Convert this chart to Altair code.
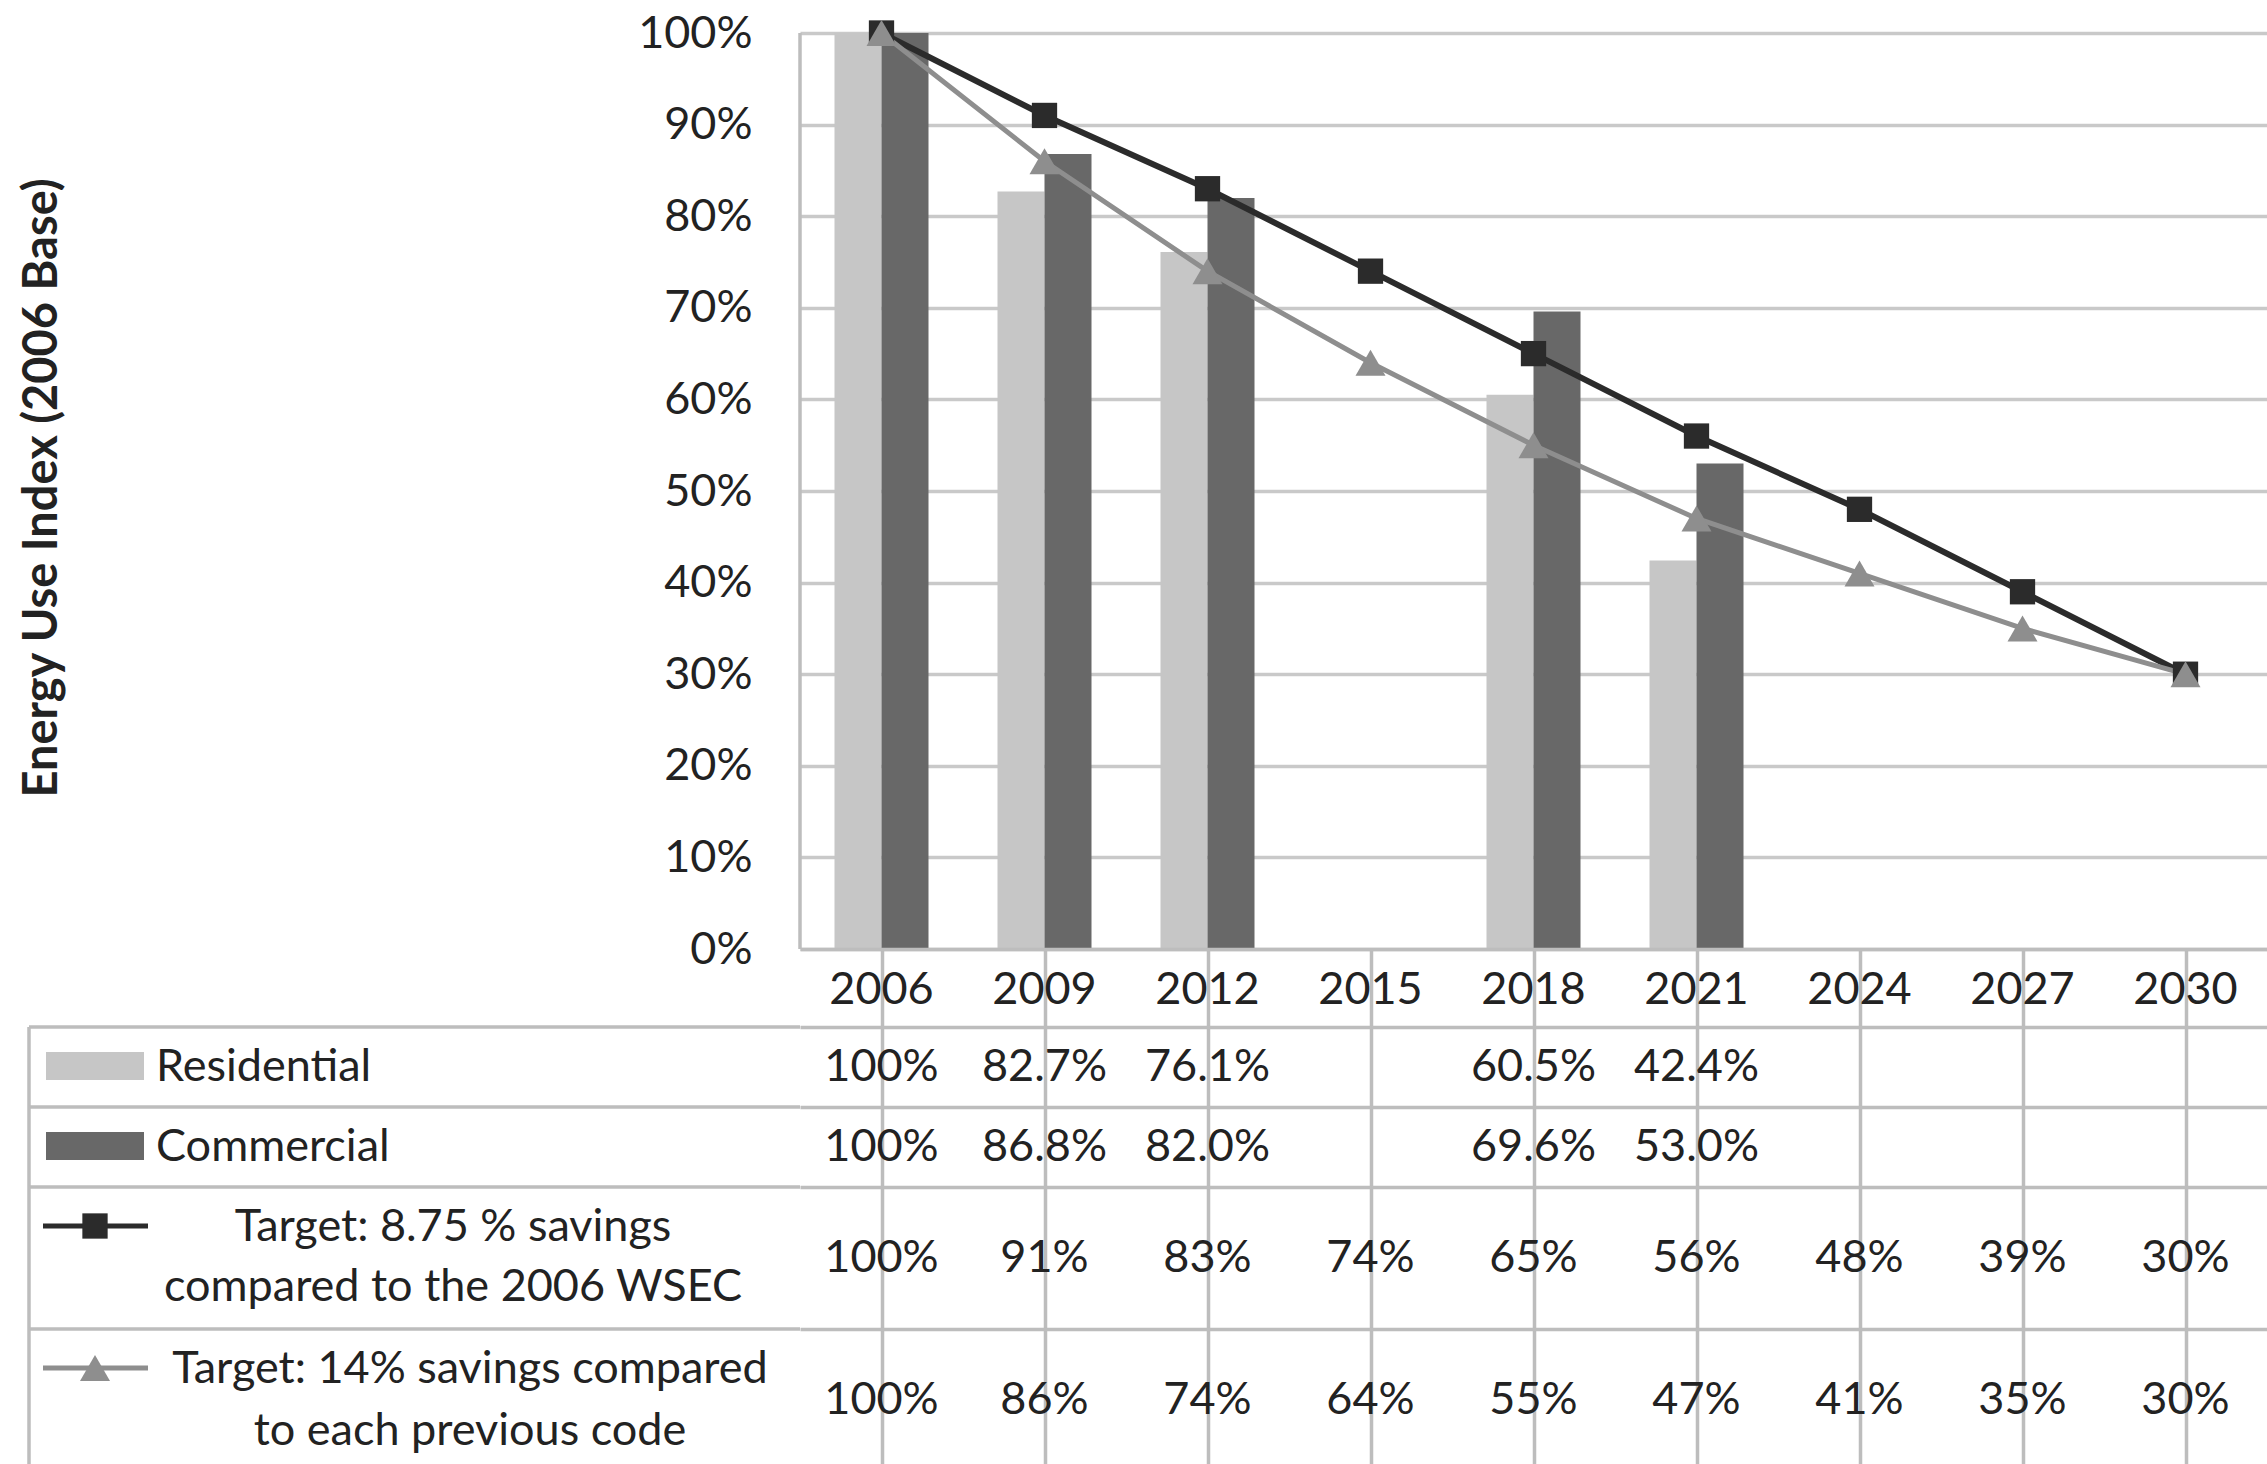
import altair as alt
import pandas as pd

# ---------------------------------------------------------------- data
years = ["2006", "2009", "2012", "2015", "2018", "2021", "2024", "2027", "2030"]
residential = [1.000, 0.827, 0.761, None, 0.605, 0.424, None, None, None]
commercial = [1.000, 0.868, 0.820, None, 0.696, 0.530, None, None, None]
target_fixed = [1.00, 0.91, 0.83, 0.74, 0.65, 0.56, 0.48, 0.39, 0.30]
target_step = [1.00, 0.86, 0.74, 0.64, 0.55, 0.47, 0.41, 0.35, 0.30]

bar_series = ["Residential", "Commercial"]
line_series = ["fixed", "step"]
line_names = {
    "fixed": "Target: 8.75 % savings\ncompared to the 2006 WSEC",
    "step": "Target: 14% savings compared\nto each previous code",
}
y_title = "Energy Use Index (2006 Base)"
y_ticks = [0.0, 0.1, 0.2, 0.3, 0.4, 0.5, 0.6, 0.7, 0.8, 0.9, 1.0]

# ---------------------------------------------------------------- style
FONT = "Lato"
FS = 45
TEXT = "#222222"
GRID = "#c9c9c9"
RULE = "#bdbdbd"
RULE_W = 3.5
SERIES_KEYS = bar_series + line_series
SERIES_COLORS = ["#c6c6c6", "#686868", "#2b2b2b", "#8e8e8e"]

LABEL_W = 800           # width of the row-label column
PLOT_W = 1467           # nine year columns
PLOT_H = 949            # chart panel height (0% sits on its bottom edge)
Y_MAX = PLOT_H / 916    # leaves a small band above the 100% line
ROW_H = {"year": 78, "Residential": 80, "Commercial": 80, "fixed": 142, "step": 135}


def pct_one(v):
    return "100%" if v >= 0.9995 else f"{v * 100:.1f}%"


def pct_int(v):
    return f"{v * 100:.0f}%"


def long_frame(series_map):
    rows = []
    for key, vals in series_map.items():
        for yr, v in zip(years, vals):
            if v is not None:
                rows.append({"year": yr, "series": key, "value": v})
    return pd.DataFrame(rows)


bars_df = long_frame({"Residential": residential, "Commercial": commercial})
lines_df = long_frame({"fixed": target_fixed, "step": target_step})

x_scale = alt.Scale(domain=years, paddingInner=0, paddingOuter=0)
y_scale = alt.Scale(domain=[0, Y_MAX], nice=False, zero=True)
color_scale = alt.Scale(domain=SERIES_KEYS, range=SERIES_COLORS)

y_axis = alt.Axis(
    values=y_ticks, format=".0%", labelFont=FONT, labelFontSize=FS,
    labelColor=TEXT, labelPadding=48, ticks=False, domain=False,
    grid=True, gridColor=GRID, gridWidth=RULE_W, title=None,
    labelOverlap=False,
)

# ---------------------------------------------------------------- chart panel
left_edge = alt.Chart(pd.DataFrame({"lo": [0.0], "hi": [1.0]})).mark_rule(
    color=RULE, strokeWidth=RULE_W
).encode(
    x=alt.value(0),
    y=alt.Y("hi:Q", scale=y_scale, axis=y_axis),
    y2="lo:Q",
)

bars = alt.Chart(bars_df).mark_bar().encode(
    x=alt.X("year:N", scale=x_scale, axis=None),
    xOffset=alt.XOffset(
        "series:N",
        scale=alt.Scale(domain=bar_series, paddingInner=0, paddingOuter=0.734),
    ),
    y=alt.Y("value:Q", scale=y_scale, axis=y_axis),
    color=alt.Color("series:N", scale=color_scale, legend=None),
)

lines = alt.Chart(lines_df).mark_line().encode(
    x=alt.X("year:N", scale=x_scale, axis=None),
    y=alt.Y("value:Q", scale=y_scale, axis=y_axis),
    color=alt.Color("series:N", scale=color_scale, legend=None),
    strokeWidth=alt.StrokeWidth(
        "series:N", scale=alt.Scale(domain=line_series, range=[6, 5]), legend=None
    ),
)

shape_scale = alt.Scale(domain=line_series, range=["square", "triangle-up"])
size_scale = alt.Scale(domain=line_series, range=[640, 900])

points = alt.Chart(lines_df).mark_point(filled=True, opacity=1).encode(
    x=alt.X("year:N", scale=x_scale, axis=None),
    y=alt.Y("value:Q", scale=y_scale, axis=y_axis),
    color=alt.Color("series:N", scale=color_scale, legend=None),
    shape=alt.Shape("series:N", scale=shape_scale, legend=None),
    size=alt.Size("series:N", scale=size_scale, legend=None),
)

plot = alt.layer(left_edge, bars, lines, points).properties(width=PLOT_W, height=PLOT_H)

title_cell = alt.Chart(pd.DataFrame({"t": [y_title]})).mark_text(
    angle=270, font=FONT, fontSize=47, fontWeight="bold", color=TEXT,
    align="center", baseline="middle",
).encode(
    text="t:N", x=alt.value(43), y=alt.value(488)
).properties(width=LABEL_W, height=PLOT_H)

# ---------------------------------------------------------------- data table
table_axis = alt.Axis(
    orient="top", labels=False, ticks=False, domain=True, domainColor=RULE,
    domainWidth=RULE_W, grid=True, gridColor=RULE, gridWidth=RULE_W,
    bandPosition=0, title=None,
)


def values_cell(labels, height, text_y=None):
    df = pd.DataFrame({"year": [y for y, t in labels], "label": [t for y, t in labels]})
    return alt.Chart(df).mark_text(
        font=FONT, fontSize=FS, color=TEXT, align="center", baseline="middle"
    ).encode(
        x=alt.X("year:N", scale=x_scale, axis=table_axis),
        y=alt.value(text_y if text_y is not None else height / 2),
        text="label:N",
    ).properties(width=PLOT_W, height=height)


def borders(height):
    one = pd.DataFrame({"k": [0]})
    top = alt.Chart(one).mark_rule(color=RULE, strokeWidth=RULE_W).encode(
        x=alt.value(29), x2=alt.value(LABEL_W), y=alt.value(0)
    )
    left = alt.Chart(one).mark_rule(color=RULE, strokeWidth=RULE_W).encode(
        x=alt.value(29), y=alt.value(0), y2=alt.value(height)
    )
    return [top, left]


def bar_label_cell(key, height):
    df = pd.DataFrame({"series": [key], "name": [key]})
    swatch = alt.Chart(df).mark_rect().encode(
        x=alt.value(46), x2=alt.value(144), y=alt.value(25), y2=alt.value(53),
        color=alt.Color("series:N", scale=color_scale, legend=None),
    )
    name = alt.Chart(df).mark_text(
        font=FONT, fontSize=FS, color=TEXT, align="left", baseline="middle"
    ).encode(x=alt.value(156), y=alt.value(40), text="name:N")
    return alt.layer(*borders(height), swatch, name).properties(width=LABEL_W, height=height)


def line_label_cell(key, height, text_x, line_height):
    df = pd.DataFrame({"series": [key], "name": [line_names[key]]})
    stroke = alt.Chart(df).mark_rule(strokeWidth=5).encode(
        x=alt.value(43), x2=alt.value(148), y=alt.value(39),
        color=alt.Color("series:N", scale=color_scale, legend=None),
    )
    marker = alt.Chart(df).mark_point(filled=True, opacity=1).encode(
        x=alt.value(95), y=alt.value(39),
        color=alt.Color("series:N", scale=color_scale, legend=None),
        shape=alt.Shape("series:N", scale=shape_scale, legend=None),
        size=alt.Size("series:N", scale=size_scale, legend=None),
    )
    # first line sits level with the legend symbol, second line below it
    name = alt.Chart(df).mark_text(
        font=FONT, fontSize=FS, color=TEXT, align="center", baseline="middle",
        lineBreak="\n", lineHeight=line_height,
    ).encode(x=alt.value(text_x), y=alt.value(40), text="name:N")
    return alt.layer(*borders(height), stroke, marker, name).properties(
        width=LABEL_W, height=height
    )


blank = alt.Chart(pd.DataFrame({"t": [""]})).mark_text().encode(
    text="t:N"
).properties(width=LABEL_W, height=ROW_H["year"])

year_row = values_cell([(y, y) for y in years], ROW_H["year"], 41)
res_row = values_cell(
    [(y, pct_one(v)) for y, v in zip(years, residential) if v is not None], ROW_H["Residential"]
)
com_row = values_cell(
    [(y, pct_one(v)) for y, v in zip(years, commercial) if v is not None], ROW_H["Commercial"]
)
fixed_row = values_cell([(y, pct_int(v)) for y, v in zip(years, target_fixed)], ROW_H["fixed"], 71)
step_row = values_cell([(y, pct_int(v)) for y, v in zip(years, target_step)], ROW_H["step"], 71)

chart = alt.concat(
    title_cell, plot,
    blank, year_row,
    bar_label_cell("Residential", ROW_H["Residential"]), res_row,
    bar_label_cell("Commercial", ROW_H["Commercial"]), com_row,
    line_label_cell("fixed", ROW_H["fixed"], 453, 60), fixed_row,
    line_label_cell("step", ROW_H["step"], 470, 62), step_row,
    columns=2, spacing=0, bounds="flush",
).properties(
    padding=0, background="white"
).configure_view(
    strokeWidth=0
)

chart.save("out.html", embed_options={"renderer": "svg", "actions": False})
